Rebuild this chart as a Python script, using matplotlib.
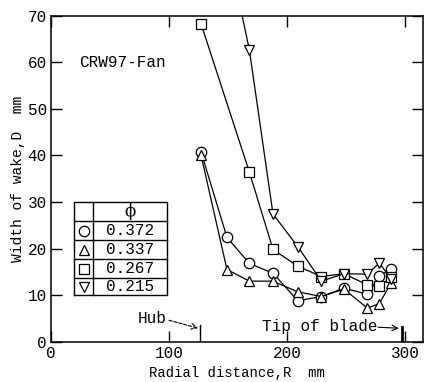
import matplotlib
matplotlib.use("Agg")
import matplotlib.pyplot as plt

# ---- data ----
phi_labels = ["0.372", "0.337", "0.267", "0.215"]
markers = ["o", "^", "s", "v"]

r_372 = [127, 149, 168, 188, 209, 229, 248, 268, 278, 288]
d_372 = [40.8, 22.4, 16.8, 14.7, 8.8, 9.7, 11.5, 10.2, 14.1, 15.6]

r_337 = [127, 149, 168, 188, 209, 229, 248, 268, 278, 288]
d_337 = [40.1, 15.5, 13.0, 13.0, 10.7, 9.7, 11.3, 7.2, 8.2, 12.6]

r_267 = [127, 168, 188, 209, 229, 248, 268, 278, 288]
d_267 = [68.3, 36.4, 19.8, 16.2, 14.0, 14.6, 12.2, 11.9, 13.8]

r_215 = [149, 168, 188, 209, 229, 248, 268, 278, 288]
d_215 = [85.5, 62.6, 27.4, 20.4, 13.0, 14.6, 14.5, 16.9, 13.5]

series_r = [r_372, r_337, r_267, r_215]
series_d = [d_372, d_337, d_267, d_215]

x_ticks = [0, 100, 200, 300]
y_ticks = [0, 10, 20, 30, 40, 50, 60, 70]
hub_r = 126
tip_r = 297

font = "Liberation Mono"
plt.rcParams['font.family'] = [font, 'DejaVu Sans Mono', 'DejaVu Sans']

fig = plt.figure(figsize=(4.26, 3.82), dpi=100)
ax = fig.add_axes([51/426, (382-341.7)/382, (423-51)/426, (341.7-15.7)/382])

for r, d, m in zip(series_r, series_d, markers):
    ax.plot(r, d, color="black", lw=0.9, marker=m, markersize=7.5,
            markerfacecolor="white", markeredgecolor="black",
            markeredgewidth=0.9, zorder=3)

ax.set_xlim(0, 315)
ax.set_ylim(0, 70)
ax.set_xticks(x_ticks)
ax.set_yticks(y_ticks)
ax.tick_params(direction="in", length=8, width=1.0, labelsize=11.5, pad=3)
ax.tick_params(axis="x", top=True)
ax.tick_params(axis="y", right=True)
for s in ax.spines.values():
    s.set_linewidth(1.1)

ax.set_xlabel("Radial distance,R  mm", fontsize=10, labelpad=4)
ax.set_ylabel("Width of wake,D  mm", fontsize=10.5, labelpad=2)

ax.text(0.075, 0.857, "CRW97-Fan", transform=ax.transAxes, fontsize=11.5,
        va="center", ha="left")

# hub and tip markers
ax.plot([hub_r, hub_r], [0, 3.6], color="black", lw=1.0)
ax.plot([tip_r, tip_r], [0, 3.2], color="black", lw=2.0)
ax.text(98, 4.9, "Hub", fontsize=11.5, ha="right", va="center")
ax.annotate("", xy=(hub_r - 1.5, 2.9), xytext=(100, 4.6),
            arrowprops=dict(arrowstyle="->", lw=0.8, linestyle=(0, (3, 1.5)),
                            color="black", shrinkA=0, shrinkB=0))
ax.text(179, 3.3, "Tip of blade", fontsize=11.5, ha="left", va="center")
ax.annotate("", xy=(tip_r - 2.5, 2.9), xytext=(277, 3.1),
            arrowprops=dict(arrowstyle="->", lw=0.8, color="black",
                            shrinkA=0, shrinkB=0))

# legend table (axes coordinates)
tl, tr, tdiv = 19.5 / 315, 98.3 / 315, 35.6 / 315
ttop, tbot = 30.0 / 70, 10.0 / 70
rows = [25.9 / 70, 21.8 / 70, 17.7 / 70, 13.6 / 70]
kw = dict(transform=ax.transAxes, color="black", lw=1.0)
ax.plot([tl, tr, tr, tl, tl], [tbot, tbot, ttop, ttop, tbot], **kw)
ax.plot([tdiv, tdiv], [tbot, ttop], **kw)
for y in rows:
    ax.plot([tl, tr], [y, y], **kw)
edges = [ttop] + rows + [tbot]
ax.text((tdiv + tr) / 2, (edges[0] + edges[1]) / 2, "\u03d5", transform=ax.transAxes,
        fontsize=12, ha="center", va="center", family=["DejaVu Serif"])
for i, (lab, m) in enumerate(zip(phi_labels, markers)):
    yc = (edges[i + 1] + edges[i + 2]) / 2
    ax.plot([(tl + tdiv) / 2], [yc], marker=m, markersize=7.5,
            markerfacecolor="white", markeredgecolor="black",
            markeredgewidth=0.9, transform=ax.transAxes, clip_on=False)
    ax.text((tdiv + tr) / 2, yc, lab, transform=ax.transAxes,
            fontsize=11.5, ha="center", va="center")

fig.savefig("out.png", dpi=100)
